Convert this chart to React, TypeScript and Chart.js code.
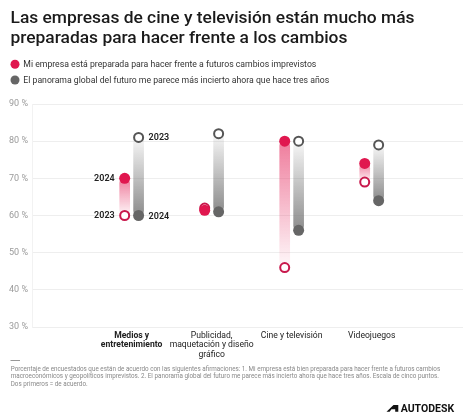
import { useEffect, useRef } from 'react';
import Chart from 'chart.js/auto';

const categories: string[][] = [
  ['Medios y', 'entretenimiento'],
  ['Publicidad,', 'maquetación y diseño', 'gráfico'],
  ['Cine y televisión'],
  ['Videojuegos'],
];
const prepared2023 = [60, 62, 46, 69];
const prepared2024 = [70, 61.4, 80, 74];
const uncertain2023 = [81, 82, 80, 79];
const uncertain2024 = [60, 61, 56, 64];
const yMin = 30;
const yMax = 90;
const yStep = 10;
const yearLabels = ['2023', '2024'];
const legendLabels = [
  'Mi empresa está preparada para hacer frente a futuros cambios imprevistos',
  'El panorama global del futuro me parece más incierto ahora que hace tres años',
];
const titleLines = [
  'Las empresas de cine y televisión están mucho más',
  'preparadas para hacer frente a los cambios',
];
const footnoteLines = [
  'Porcentaje de encuestados que están de acuerdo con las siguientes afirmaciones: 1. Mi empresa está bien preparada para hacer frente a futuros cambios',
  'macroeconómicos y geopolíticos imprevistos. 2. El panorama global del futuro me parece más incierto ahora que hace tres años. Escala de cinco puntos.',
  'Dos primeros = de acuerdo.',
];
const brand = 'AUTODESK';

const PINK = '#e0174f';
const PINK_RING = '#c8184c';
const GREY = '#666666';
const GREY_RING = '#555555';
const FONT = 'Roboto, "Noto Sans", sans-serif';
const DX = 0.087;

const idx = categories.map((_, i) => i);

function gradientFor(light: string, strong: string) {
  return (c: any) => {
    const chart = c.chart;
    if (!chart.chartArea || !c.raw) return strong;
    const ys = chart.scales.y;
    const p0 = ys.getPixelForValue(c.raw.y[0]);
    const p1 = ys.getPixelForValue(c.raw.y[1]);
    if (Math.abs(p1 - p0) < 0.5) return strong;
    const g = chart.ctx.createLinearGradient(0, p0, 0, p1);
    g.addColorStop(0, light);
    g.addColorStop(1, strong);
    return g;
  };
}

const textPlugin = {
  id: 'texts',
  afterDraw(chart: any) {
    const ctx = chart.ctx;
    const xs = chart.scales.x;
    const ys = chart.scales.y;
    ctx.save();
    // title
    ctx.fillStyle = '#1a1a1a';
    ctx.font = `500 17.4px ${FONT}`;
    ctx.textAlign = 'left';
    ctx.textBaseline = 'alphabetic';
    titleLines.forEach((t, i) => ctx.fillText(t, 10.5, 23 + i * 19.5));
    // legend
    const legendColors = [PINK, GREY];
    legendLabels.forEach((t, i) => {
      const cy = 64.3 + i * 15.7;
      ctx.beginPath();
      ctx.fillStyle = legendColors[i];
      ctx.arc(15, cy, 4.5, 0, Math.PI * 2);
      ctx.fill();
      ctx.fillStyle = '#333';
      ctx.font = `8.7px ${FONT}`;
      ctx.textBaseline = 'middle';
      ctx.fillText(t, 23.3, cy + 0.5);
    });
    // year annotations for first category
    ctx.font = `600 9px ${FONT}`;
    ctx.fillStyle = '#222';
    ctx.textBaseline = 'middle';
    const xp = xs.getPixelForValue(0 - DX);
    const xg = xs.getPixelForValue(0 + DX);
    ctx.textAlign = 'right';
    ctx.fillText(yearLabels[1], xp - 10, ys.getPixelForValue(prepared2024[0]));
    ctx.fillText(yearLabels[0], xp - 10, ys.getPixelForValue(prepared2023[0]));
    ctx.textAlign = 'left';
    ctx.fillText(yearLabels[0], xg + 10, ys.getPixelForValue(uncertain2023[0]));
    ctx.fillText(yearLabels[1], xg + 10, ys.getPixelForValue(uncertain2024[0]) + 1.5);
    // footnote
    ctx.strokeStyle = '#999';
    ctx.lineWidth = 1;
    ctx.beginPath();
    ctx.moveTo(10.5, 360.5);
    ctx.lineTo(20, 360.5);
    ctx.stroke();
    ctx.fillStyle = '#888';
    ctx.font = `6.3px ${FONT}`;
    ctx.textAlign = 'left';
    ctx.textBaseline = 'middle';
    footnoteLines.forEach((t, i) => ctx.fillText(t, 10.7, 369 + i * 7.6));
    // brand
    ctx.fillStyle = '#111';
    ctx.beginPath();
    ctx.moveTo(386.5, 411.7);
    ctx.lineTo(393.5, 405);
    ctx.lineTo(398.3, 405);
    ctx.lineTo(398.3, 411.7);
    ctx.lineTo(395.2, 411.7);
    ctx.lineTo(395.2, 409.2);
    ctx.lineTo(391.5, 409.2);
    ctx.lineTo(389.6, 411.7);
    ctx.closePath();
    ctx.fill();
    ctx.font = `bold 10.5px ${FONT}`;
    ctx.textBaseline = 'alphabetic';
    ctx.fillText(brand, 400.7, 412);
    ctx.restore();
  },
};

export default function App() {
  const ref = useRef<HTMLCanvasElement>(null);
  useEffect(() => {
    if (!ref.current) return;
    const chart = new Chart(ref.current, {
      type: 'bar',
      data: {
        datasets: [
          {
            type: 'scatter',
            label: 'p2024',
            data: idx.map((i) => ({ x: i - DX, y: prepared2024[i] })),
            backgroundColor: PINK,
            borderColor: PINK,
            borderWidth: 0,
            pointRadius: 5.5,
            order: 1,
          } as any,
          {
            type: 'scatter',
            label: 'p2023',
            data: idx.map((i) => ({ x: i - DX, y: prepared2023[i] })),
            backgroundColor: '#ffffff',
            borderColor: PINK_RING,
            borderWidth: 2,
            pointRadius: 4.5,
            order: 2,
          } as any,
          {
            type: 'scatter',
            label: 'u2024',
            data: idx.map((i) => ({ x: i + DX, y: uncertain2024[i] })),
            backgroundColor: GREY,
            borderColor: GREY,
            borderWidth: 0,
            pointRadius: 5.5,
            order: 1,
          } as any,
          {
            type: 'scatter',
            label: 'u2023',
            data: idx.map((i) => ({ x: i + DX, y: uncertain2023[i] })),
            backgroundColor: '#ffffff',
            borderColor: GREY_RING,
            borderWidth: 2,
            pointRadius: 4.5,
            order: 2,
          } as any,
          {
            type: 'bar',
            label: 'pbar',
            data: idx.map((i) => ({ x: i - DX, y: [prepared2023[i], prepared2024[i]] })),
            backgroundColor: gradientFor('rgba(232,70,115,0.04)', 'rgba(232,70,115,0.7)'),
            borderWidth: 0,
            borderRadius: 5,
            borderSkipped: false,
            barThickness: 10,
            grouped: false,
            order: 5,
          } as any,
          {
            type: 'bar',
            label: 'ubar',
            data: idx.map((i) => ({ x: i + DX, y: [uncertain2023[i], uncertain2024[i]] })),
            backgroundColor: gradientFor('rgba(120,120,120,0.06)', 'rgba(120,120,120,0.85)'),
            borderWidth: 0,
            borderRadius: 5,
            borderSkipped: false,
            barThickness: 10,
            grouped: false,
            order: 5,
          } as any,
        ],
      },
      options: {
        animation: false,
        responsive: false,
        events: [],
        layout: { padding: { top: 104, right: 11, left: 0, bottom: 0 } },
        plugins: {
          legend: { display: false },
          title: { display: false },
          tooltip: { enabled: false },
        },
        scales: {
          x: {
            type: 'linear',
            min: -0.572,
            max: 3.468,
            grid: { display: false, drawTicks: false },
            border: { display: false },
            afterBuildTicks: (axis: any) => {
              axis.ticks = idx.map((i) => ({ value: i }));
            },
            afterFit: (axis: any) => {
              axis.height = 418 - 327;
            },
            ticks: {
              autoSkip: false,
              maxRotation: 0,
              padding: 4,
              color: '#222',
              font: (c: any) => ({ family: FONT, size: 8.6, lineHeight: 1.1, weight: c.index === 0 ? 'bold' : 'normal' }),
              callback: (v: any) => categories[Math.round(v)] ?? '',
            },
          },
          y: {
            type: 'linear',
            min: yMin,
            max: yMax,
            grid: { color: '#eeeeee', drawTicks: false, lineWidth: 1 },
            border: { display: true, color: '#f2f2f2' },
            afterFit: (axis: any) => {
              axis.width = 32;
            },
            ticks: {
              stepSize: yStep,
              padding: 4,
              color: '#9a9a9a',
              font: { family: FONT, size: 9 },
              callback: (v: any) => `${v} %`,
            },
          },
        },
      },
      plugins: [textPlugin],
    } as any);
    return () => chart.destroy();
  }, []);
  return (
    <div style={{ position: 'absolute', left: 0, top: 0, width: 474, height: 418, background: '#fff' }}>
      <canvas ref={ref} width={474} height={418} style={{ width: 474, height: 418, display: 'block' }} />
    </div>
  );
}
